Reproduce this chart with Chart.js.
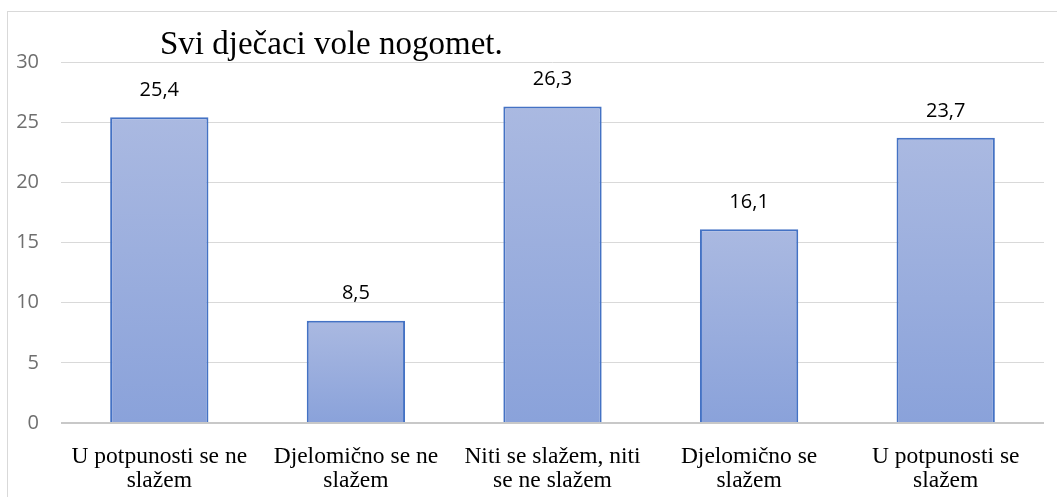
<!DOCTYPE html>
<html>
<head>
<meta charset="utf-8">
<script src="https://cdn.jsdelivr.net/npm/chart.js@4"></script>
<style>
  body { margin: 0; background: #fff; }
  #frame { position: absolute; left: 7px; top: 11px; width: 1100px; height: 540px; border: 1px solid #d9d9d9; }
  #wrap { position: absolute; left: 0; top: 0; width: 1057px; height: 497px; }
</style>
</head>
<body>
<div id="frame"></div>
<div id="wrap"><canvas id="chart" width="1057" height="497"></canvas></div>
<script>
// data
let categories = [
  ['U potpunosti se ne', 'slažem'],
  ['Djelomično se ne', 'slažem'],
  ['Niti se slažem, niti', 'se ne slažem'],
  ['Djelomično se', 'slažem'],
  ['U potpunosti se', 'slažem']
];
let values = [25.4, 8.5, 26.3, 16.1, 23.7];
let yTicks = [0, 5, 10, 15, 20, 25, 30];
let chartTitle = 'Svi dječaci vole nogomet.';

function barGradient(context){
  const chart = context.chart;
  const el = chart.getDatasetMeta(0).data[context.dataIndex];
  if (!el || !Number.isFinite(el.y) || !Number.isFinite(el.base)) return '#9aaedd';
  const g = chart.ctx.createLinearGradient(0, el.y, 0, el.base);
  g.addColorStop(0, '#aab9e1');
  g.addColorStop(1, '#8aa2da');
  return g;
}

// title + value labels
const extras = {
  id: 'extras',
  afterDatasetsDraw(chart){
    const ctx = chart.ctx;
    ctx.save();
    ctx.fillStyle = '#000';
    ctx.font = '33px "Liberation Serif"';
    ctx.textAlign = 'left';
    ctx.textBaseline = 'middle';
    ctx.fillText(chartTitle, 160, 45);

    ctx.font = '20px "Open Sans"';
    ctx.textAlign = 'center';
    const meta = chart.getDatasetMeta(0);
    meta.data.forEach((el, i) => {
      ctx.fillText(values[i].toFixed(1).replace('.', ','), el.x, el.y - 27);
    });
    ctx.restore();
  }
};

const ctx = document.getElementById('chart');
const chart = new Chart(ctx, {
  type: 'bar',
  data: {
    labels: categories,
    datasets: [{
      data: values,
      backgroundColor: barGradient,
      borderColor: '#4472c4',
      borderWidth: 2,
      categoryPercentage: 1,
      barPercentage: 0.5
    }]
  },
  options: {
    responsive: false,
    animation: false,
    devicePixelRatio: 1,
    layout: { padding: { top: 62, right: 13, left: 0, bottom: 0 } },
    plugins: {
      legend: { display: false },
      tooltip: { enabled: false }
    },
    scales: {
      x: {
        grid: { display: false },
        border: { display: false },
        ticks: {
          color: '#000',
          font: { family: 'Liberation Serif', size: 23.5, lineHeight: 1.05 },
          padding: 13,
          maxRotation: 0,
          autoSkip: false
        },
        afterFit(scale){ scale.height = 74; }
      },
      y: {
        min: 0,
        max: 30,
        afterBuildTicks(scale){ scale.ticks = yTicks.map(v => ({ value: v })); },
        grid: {
          color: c => c.tick && c.tick.value === 0 ? '#c8c8c8' : '#d9d9d9',
          lineWidth: c => c.tick && c.tick.value === 0 ? 2 : 1,
          drawTicks: false
        },
        border: { display: false },
        ticks: {
          color: '#6f6f6f',
          font: { family: 'Open Sans', size: 20 },
          padding: 22
        },
        afterFit(scale){ scale.width = 61; }
      }
    }
  },
  plugins: [extras]
});
chart.update();
</script>
</body>
</html>
